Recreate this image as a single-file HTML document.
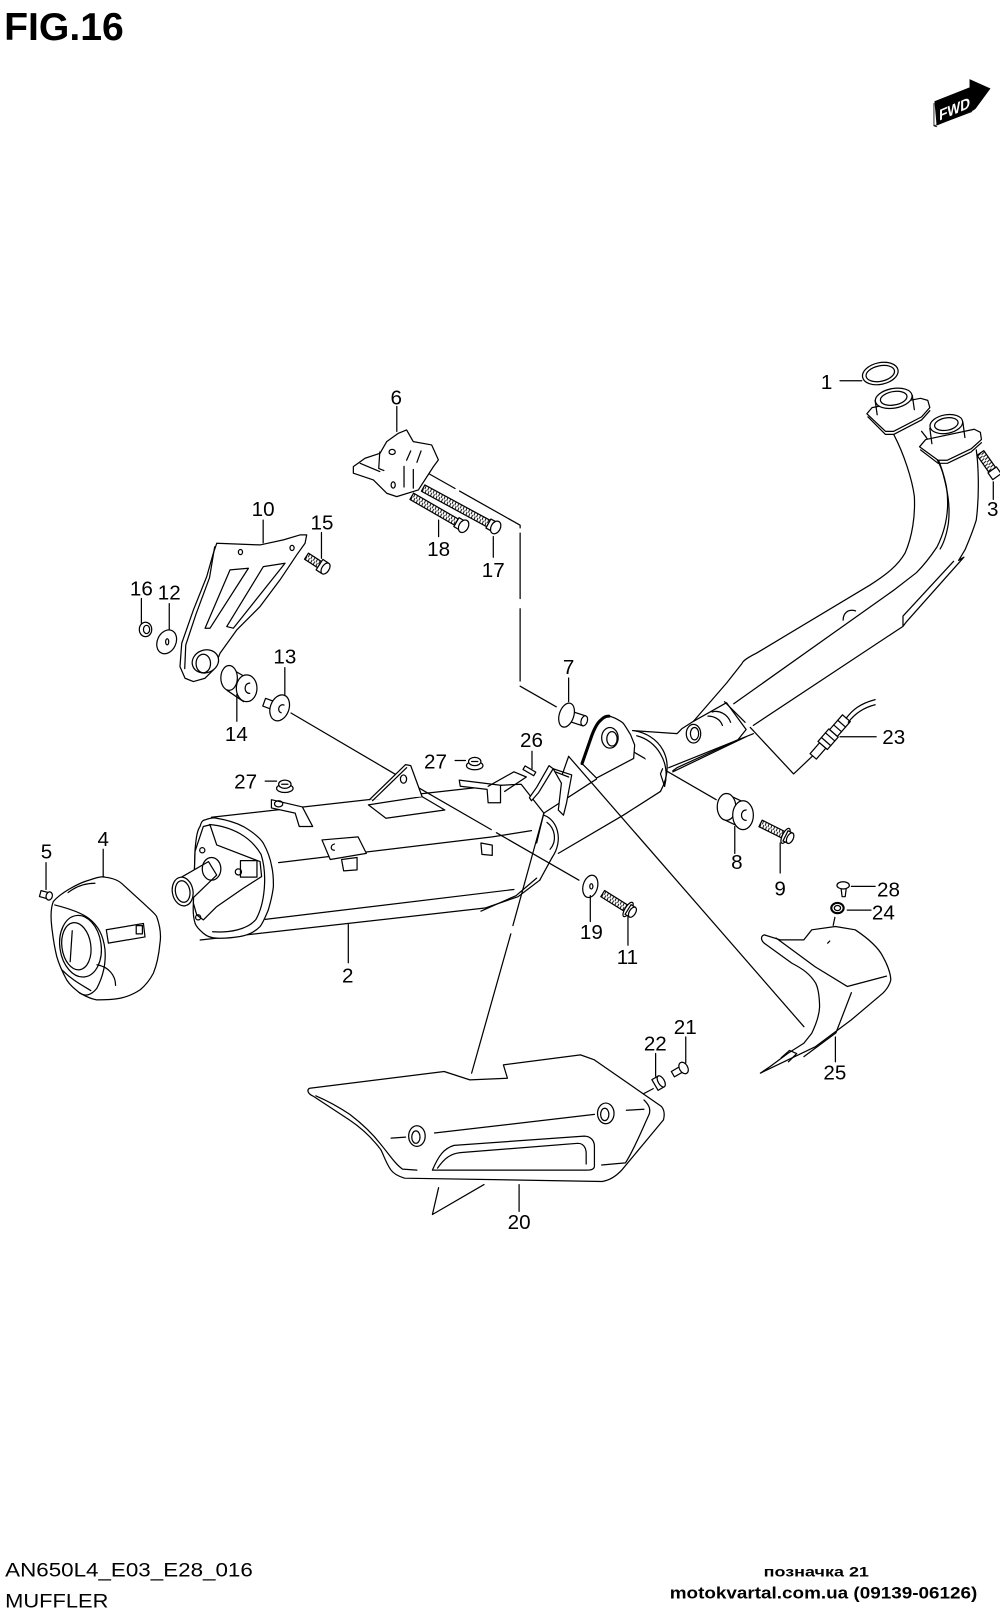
<!DOCTYPE html>
<html><head><meta charset="utf-8"><style>
html,body{margin:0;padding:0;background:#fff;}
svg{display:block;}
text{font-family:"Liberation Sans",Arial,sans-serif;fill:#000;}
.l{font-size:20px;text-anchor:middle;}
</style></head><body>
<svg width="1000" height="1619" viewBox="0 0 969 1569" preserveAspectRatio="none" xmlns="http://www.w3.org/2000/svg">
<defs>
<pattern id="thr" width="3" height="10" patternUnits="userSpaceOnUse"><rect width="3" height="10" fill="#fff"/><path d="M0.5,0 L2,10" stroke="#000" stroke-width="0.9"/></pattern>
</defs>
<rect width="969" height="1569" fill="#fff"/>
<text x="4" y="39" font-size="38" font-weight="bold" textLength="116" lengthAdjust="spacingAndGlyphs">FIG.16</text>
<!-- FWD -->
<polygon points="906,98.5 940,85 940,77.5 959,86 945,105 943,106.5 908,121" fill="#000" stroke="#000" stroke-width="1"/>
<path d="M905,100 L905,122 L908,123 M905,122 L942,108" fill="none" stroke="#000" stroke-width="0.8"/>
<text x="0" y="0" font-size="15" font-weight="bold" style="fill:#fff" textLength="30" lengthAdjust="spacingAndGlyphs" transform="translate(910,117) skewY(-23)">FWD</text>

<g fill="none" stroke="#000" stroke-width="1.2" stroke-linejoin="round" stroke-linecap="round">
<!-- ===== leader/dashed lines ===== -->
<path d="M380,439 L504,509 L504,580 M504,590 L504,665 L539,685" stroke-dasharray="70 5"/>
<path d="M282,691 L391,755 M391,755 L476,804 M481,807 L561,853" />
<path d="M592,716 L694,775"/>
<path d="M702,680 L722,700 M727,705 L769,750 L787,733"/>
<path d="M551,733 L779,995"/>
<path d="M527,788 L497,897 M495,905 L457,1040"/>
<path d="M809,889 L804,913" stroke-dasharray="8 4"/>
<path d="M587,1079 L633,1055"/>

<!-- ===== exhaust pipes ===== -->
<path d="M866,421 C876,440 884,465 886,481 C887,500 884,520 877,536 C870,548 860,556 843,567 L733,633 C725,637 720,640 719,643 L704,662 L672,699"/>
<path d="M893,418 C905,432 913,452 917,471 C920,490 918,510 908,530 C900,542 895,548 888,555 L866,572 L711,682"/>
<path d="M898,430 C906,440 912,452 914,460 C918,475 921,490 919,507 C917,520 914,527 911,532"/>
<path d="M946,436 C948,450 948,462 948,471 C948,488 947,496 946,504 C942,517 938,526 935,533 L929,543"/>
<path d="M929,543 L934,540 L878,603 L875,607 L875,597 L924,544 M875,607 L730,703"/>
<path d="M817,601 C817,594 822,590 829,592"/>
<!-- left flange -->
<path d="M840,401 L845,395 L892,386 L899,388 L901,395 L893,404 L866,418 L858,418 Z" fill="#fff"/>
<path d="M841,404 L858,421 L866,421 L893,407 L901,398"/>
<path d="M848,388 L850,402 M884,383 L886,397" />
<ellipse cx="866" cy="386" rx="18" ry="9.5" transform="rotate(-10 866 386)" fill="#fff"/>
<ellipse cx="866" cy="386" rx="13" ry="6.5" transform="rotate(-10 866 386)"/>
<!-- right flange -->
<path d="M891,433 L897,426 L944,416 L950,419 L951,426 L941,435 L918,446 L909,446 Z" fill="#fff"/>
<path d="M892,436 L909,449 L918,449 L941,438 L951,429"/>
<path d="M901,415 L903,430 M933,409 L935,424"/>
<ellipse cx="917" cy="411" rx="16" ry="9" transform="rotate(-10 917 411)" fill="#fff"/>
<ellipse cx="917" cy="411" rx="11.5" ry="6" transform="rotate(-10 917 411)"/>
<!-- ring 1 -->
<ellipse cx="853" cy="362" rx="17.5" ry="10.5" transform="rotate(-12 853 362)" fill="#fff"/>
<ellipse cx="853" cy="362" rx="14" ry="7.5" transform="rotate(-12 853 362)"/>
<!-- bolt 3 -->
<g transform="translate(950,439) rotate(55)"><rect x="0" y="-4" width="20" height="8" fill="url(#thr)"/><rect x="20" y="-5" width="8" height="10" fill="#fff"/></g>
<!-- sensor 23 -->
<g transform="translate(788,733) rotate(-49)"><rect x="0" y="-4" width="14" height="8" fill="#fff"/><rect x="14" y="-6" width="16" height="12" fill="#fff"/><path d="M19,-6 L19,6 M25,-6 L25,6"/><rect x="30" y="-5" width="19" height="10" fill="#fff"/><path d="M36,-5 L36,5 M42,-5 L42,5"/></g>
<path d="M820,696 C826,688 833,682 848,678 M822,700 C828,692 836,686 848,683"/>

<!-- ===== junction / catalyzer ===== -->
<path d="M613,708 L656,711 L661,706 L672,699 L704,681 L723,707 L715,717 L656,744 L652,747"/>
<path d="M648,744 L730,711 M652,748 L723,714"/>
<path d="M613,708 C638,711 657,735 640,767" fill="#fff"/>
<path d="M617,713 C636,718 650,738 644,762"/>
<path d="M640,767 L604,790 L541,827"/>
<ellipse cx="672" cy="711" rx="7" ry="9"/>
<ellipse cx="673" cy="711" rx="4" ry="6"/>
<path d="M690,690 C697,688 705,692 708,700 M686,694 C692,694 698,697 700,703"/>
<path d="M644,762 L640,750 L642,745"/>
<!-- hanger plate -->
<path d="M564,740 L572,717 C575,708 578,702 581,699 C584,696 586,694 588,694 C592,694 594,695 596,696 C600,698 602,699 604,701 C607,705 609,709 611,712 L615,722 L614,735 L578,754 Z" fill="#fff"/>
<path d="M564,740 L572,717 C575,708 578,702 581,699 C584,696 586,694 590,694" stroke-width="3"/>
<ellipse cx="591" cy="715" rx="8" ry="10" fill="#fff"/>
<ellipse cx="593" cy="716" rx="5" ry="7"/>
<path d="M527,788 L578,755"/>
<!-- ===== muffler 2 ===== -->
<path d="M205,792 L455,764 L486,761"/>
<path d="M270,836 L477,811 L515,805"/>
<path d="M257,891 L498,862"/>
<path d="M194,911 L470,880 L502,869 L523,853"/>
<path d="M466,883 L500,868 L520,851"/>
<path d="M486,761 L505,760 L527,788"/>
<path d="M527,790 C541,795 546,815 535,831" fill="#fff"/>
<path d="M530,797 C538,803 540,815 533,823"/>
<path d="M523,853 L535,831"/>
<!-- side bracket -->
<path d="M312,814 L347,811 L355,827 L320,833 Z" fill="#fff"/>
<path d="M331,833 L346,831 L346,843 L333,844 Z" fill="#fff"/>
<path d="M324,818 C320,819 320,824 324,824"/>
<path d="M466,817 L477,819 L477,829 L467,828 Z" fill="#fff"/>
<!-- top triangle bracket -->
<path d="M357,780 L374,793 L431,785 L409,772 Z" fill="#fff"/>
<path d="M358,775 L393,741 L398,742 L409,772" fill="#fff"/>
<path d="M361,776 L394,744" />
<ellipse cx="391" cy="755" rx="3" ry="4"/>
<!-- left clip + 27 -->
<path d="M263,775 L293,782 L303,801 L290,801 L286,788 L263,783 Z" fill="#fff"/>
<ellipse cx="270" cy="779" rx="4" ry="3"/>
<g transform="translate(276,761)"><ellipse cx="0" cy="3" rx="8" ry="4" fill="#fff"/><ellipse cx="0" cy="-1" rx="6" ry="4" fill="#fff"/><path d="M-3,-1 L3,-1"/></g>
<!-- upper clip + 27 -->
<path d="M445,756 L485,761 L485,778 L473,778 L472,765 L446,762 Z" fill="#fff"/>
<path d="M473,762 L498,748 L510,753 L489,767"/>
<g transform="translate(460,739)"><ellipse cx="0" cy="3" rx="8" ry="4" fill="#fff"/><ellipse cx="0" cy="-1" rx="6" ry="4" fill="#fff"/><path d="M-3,-1 L3,-1"/></g>
<!-- bracket near 26 -->
<path d="M536,745 L554,751 L549,778 L546,790 L541,785 L544,759 Z" fill="#fff"/>
<path d="M538,748 L551,753"/>
<path d="M515,776 L522,768 L536,745 L532,742 L520,763 L513,773 Z" fill="#fff"/>
<path d="M545,750 L551,733"/>
<path d="M520,817 L527,788"/>
<g transform="translate(513,747) rotate(30)"><rect x="-6" y="-2" width="12" height="4" fill="#fff"/></g>
<!-- muffler end cap -->
<path d="M198.6,794.6 C203,793 207,792 210,793 C222,795 230,798 235.8,801 C246,807 252,812 255.2,817.2 C260,826 262,832 263.3,839.8 C265,847 265,853 264.9,859.2 C264,868 262,875 260,881.8 C257,889 255,894 252,897.9 C246,904 240,906 232.6,907.6 C224,909 216,909.5 210,909.2 C204,909 200,907 197,904.4 C193,901 190,898 189,894.7 C187,888 187,881 187.4,875.3 L189,823.6 C190,812 191,805 193.8,801 C195,797 196,795 198.6,794.6 Z" fill="#fff"/>
<path d="M203,799 C225,801 243,811 253,828 C259,847 257,875 248,891 C240,901 222,904 206,903"/>
<path d="M197,801 L203.5,799.4 L210,818.8 L252,835 L253.5,849.5 L235.8,860.8 L210,878.6 L197,891.5 L190.6,886.6 L187.4,875.3 L189,825 Z" fill="#fff"/>
<rect x="233" y="834" width="16" height="16" fill="#fff"/>
<circle cx="196" cy="824" r="2.5"/><circle cx="231" cy="845" r="3"/><circle cx="192" cy="889" r="2.5"/>
<path d="M176,850 L202,835 L210,848 L179,878" fill="#fff"/>
<ellipse cx="205" cy="842" rx="9" ry="11"/>
<ellipse cx="177" cy="864" rx="10" ry="14" transform="rotate(-10 177 864)" fill="#fff"/>
<ellipse cx="177" cy="864" rx="7" ry="10.5" transform="rotate(-10 177 864)"/>
<!-- cap 4 -->
<path d="M51.7,873.7 C58,866 75,856 87.2,852.7 C95,850 100,849 101.7,850.1 C110,851 116,854 119.5,857.6 L138.9,875.3 C146,882 151,886 151.8,888.3 C156,900 156,908 155,914.1 C154,925 152,935 148.6,943.2 C145,950 141,955 135.7,959.3 C130,963 124,966 116.3,967.4 C108,969 100,969 93.7,969 C87,968 82,965 77.5,962.5 C72,958 68,955 64.6,949.6 C60,941 57,934 55,927 C52,915 51,905 50.1,898 C49,888 49,880 51.7,873.7 Z" fill="#fff"/>
<path d="M53,877 C65,880 78,884 86,890 C95,897 100,906 101.7,920 C103,935 99,948 93.7,958 C88,965 82,966 77,962"/>
<ellipse cx="78" cy="917" rx="20" ry="30" transform="rotate(-8 78 917)"/>
<ellipse cx="74" cy="917" rx="14" ry="23" transform="rotate(-8 74 917)"/>
<path d="M70,902 L68,932"/>
<path d="M103,901 L139,895 L140.5,908 L105,914 Z" fill="#fff"/>
<rect x="132" y="897" width="6" height="8"/>
<path d="M66,865 C75,858 85,856 92,856"/>
<path d="M94,935 C105,937 112,945 112,955"/>
<path d="M60,940 C70,950 80,955 88,960"/>
<!-- screw 5 -->
<g transform="translate(39,866) rotate(15)"><rect x="0" y="-3" width="8" height="6" fill="#fff"/><ellipse cx="9" cy="0" rx="3" ry="4" fill="#fff"/></g>

<!-- ===== bracket 6 ===== -->
<path d="M342.4,452.2 L353.7,444.1 L368.2,439.3 L374.7,428 L386,419.9 L394,416.7 L400.5,428 L418.3,431.2 L424.8,445.7 L420,452.2 L405.4,474.8 L384.4,481.3 L374.7,478 L361.8,465.1 L342.4,458.6 Z" fill="#fff"/>
<path d="M368,438 L367,454 L372,456 M349,449 L368,457 M391.5,452 L391.5,472 M400.5,455 L400.5,473 M398,437 L394,446 M408,437 L404,448"/>
<ellipse cx="380" cy="438" rx="3" ry="2.5"/>
<ellipse cx="381" cy="470" rx="2" ry="3"/>
<!-- bolts 17/18 -->
<g transform="translate(410,473) rotate(28.5)"><rect x="0" y="-3.5" width="72" height="7" fill="url(#thr)"/><rect x="72" y="-5" width="5" height="10" fill="#fff"/><ellipse cx="80" cy="0" rx="4.5" ry="6.5" fill="#fff"/></g>
<g transform="translate(399,481) rotate(30)"><rect x="0" y="-3.5" width="50" height="7" fill="url(#thr)"/><rect x="50" y="-5" width="5" height="10" fill="#fff"/><ellipse cx="58" cy="0" rx="4.5" ry="6.5" fill="#fff"/></g>
<!-- bracket 10 -->
<path d="M210,526.5 L252,528.1 L274.6,523.2 L290.7,518.4 L297.2,518.4 L295.6,526.5 L287.5,537.8 L271.3,562 L252,587.8 L229.4,610.5 L213.2,633.1 L206.7,649.2 L198.7,657.3 L187.4,660.5 L179.3,657.3 L174.4,646 L176.1,623.4 L187.4,591.1 L200.3,558.8 L206.7,536.2 Z" fill="#fff"/>
<path d="M208,530 L203,560 L190,595 L180,625 L179,648"/>
<path d="M222.9,552.3 L240.7,550.7 L203.5,608.8 L198.7,608.8 Z"/>
<path d="M255.2,549.1 L276.2,545.9 L226.1,608.8 L219.7,607.2 Z"/>
<ellipse cx="233" cy="535" rx="2" ry="2.5"/>
<ellipse cx="283" cy="531" rx="2" ry="2.5"/>
<ellipse cx="199" cy="641" rx="13" ry="11" transform="rotate(-20 199 641)" fill="#fff"/>
<ellipse cx="197" cy="643" rx="7" ry="9"/>
<!-- bolt 15 -->
<g transform="translate(297,539) rotate(33)"><rect x="0" y="-3.5" width="15" height="7" fill="url(#thr)"/><rect x="15" y="-6" width="6" height="12" fill="#fff"/><ellipse cx="22" cy="0" rx="3.5" ry="6" fill="#fff"/></g>
<!-- nut 16, washer 12 -->
<ellipse cx="141" cy="610" rx="6" ry="7" fill="#fff"/><ellipse cx="142" cy="610" rx="3" ry="4"/>
<ellipse cx="161.5" cy="622" rx="9" ry="12" transform="rotate(25 161.5 622)" fill="#fff"/><ellipse cx="162" cy="622" rx="1.5" ry="3"/>
<!-- spacer 14 -->
<path d="M220,646 L236,655 M220,669 L236,680"/>
<ellipse cx="222" cy="657" rx="8" ry="12" fill="#fff"/>
<ellipse cx="239" cy="667" rx="10" ry="13" fill="#fff"/>
<path d="M242,662 C236,662 236,672 242,672"/>
<!-- collar 13 -->
<g transform="translate(271,686) rotate(20)"><rect x="-16" y="-4" width="16" height="8" fill="#fff"/><ellipse cx="0" cy="0" rx="9" ry="13" fill="#fff"/><path d="M3,-4 C-2,-4 -2,4 3,4"/></g>
<!-- collar 7 -->
<g transform="translate(549,693) rotate(18)"><rect x="0" y="-5" width="18" height="10" fill="#fff"/><ellipse cx="18" cy="0" rx="3" ry="5" fill="#fff"/><ellipse cx="0" cy="0" rx="7" ry="12" fill="#fff"/></g>
<!-- spacer 8 -->
<path d="M703,769 L720,777 M703,795 L720,803"/>
<ellipse cx="704" cy="782" rx="9" ry="13" fill="#fff"/>
<ellipse cx="720" cy="790" rx="10" ry="14" fill="#fff"/>
<path d="M723,785 C717,785 717,795 723,795"/>
<!-- bolt 9 -->
<g transform="translate(737,798) rotate(26.5)"><rect x="0" y="-3.5" width="24" height="7" fill="url(#thr)"/><ellipse cx="27" cy="0" rx="3" ry="8" fill="#fff"/><rect x="27" y="-5.5" width="5" height="11" fill="#fff"/><ellipse cx="32" cy="0" rx="3" ry="5.5" fill="#fff"/></g>
<!-- washer 19, bolt 11 -->
<ellipse cx="572" cy="859" rx="7" ry="11" transform="rotate(15 572 859)" fill="#fff"/><ellipse cx="573" cy="859" rx="1.5" ry="2.5"/>
<g transform="translate(584,866) rotate(32)"><rect x="0" y="-3.5" width="26" height="7" fill="url(#thr)"/><ellipse cx="29" cy="0" rx="3" ry="8" fill="#fff"/><rect x="29" y="-5.5" width="5" height="11" fill="#fff"/><ellipse cx="34" cy="0" rx="3" ry="5.5" fill="#fff"/></g>
<!-- screw 28, nut 24 -->
<path d="M815,861 L816,869 L819,869 L820,861"/>
<ellipse cx="817" cy="858" rx="6" ry="3.5" fill="#fff"/>
<ellipse cx="811.5" cy="880" rx="6" ry="5" fill="#fff" stroke-width="2"/><ellipse cx="811.5" cy="880" rx="3" ry="2.5"/>
<!-- 21, 22 -->
<g transform="translate(652,1041) rotate(-30)"><rect x="0" y="-3" width="10" height="6" fill="#fff"/><ellipse cx="12" cy="0" rx="4" ry="6" fill="#fff"/></g>
<g transform="translate(639,1049) rotate(-30)"><rect x="-5" y="-6" width="7" height="12" fill="#fff"/><ellipse cx="2" cy="0" rx="3" ry="6" fill="#fff"/></g>

<!-- ===== heat shield 25 ===== -->
<path d="M740.6,906 L755.9,910.8 L778.9,910.8 L786.6,901.1 L809.5,897.9 L828.7,901.1 C845,912 852,920 855.5,927 C861,937 863,944 863.2,949.6 C862,955 859,959 855.5,962.5 L824.9,988.4 L790.4,1014.2 L763.6,1027.1 L736.8,1040 L746.3,1033.6 L763.6,1020.7 L778.9,1011 L786.6,1001.3 C792,990 794,982 794.2,975.5 C794,965 793,958 790.4,952.8 C785,944 778,939 767.4,933.5 L740.6,914.1 C737,911 737,907 740.6,906 Z" fill="#fff"/>
<path d="M752,909 L790,937 L821,956 L859,946"/>
<path d="M825,962 L810,1001 L779,1024"/>
<path d="M757,1025 L765,1018 L772,1021 L764,1029"/>
<path d="M804,912 L802,914"/>

<!-- ===== heat shield 20 ===== -->
<path d="M300.2,1054.6 L430.4,1038.4 L455.3,1046.5 L491.7,1044.9 L487.8,1032 L562.5,1022.3 L575.9,1027.1 L641,1072.3 C644,1076 644,1081 642.9,1085.3 L602.7,1133.7 C596,1141 590,1144 583.6,1145 L392.1,1141.8 C386,1140 381,1137 378.7,1133.7 C374,1127 372,1120 369.1,1114.3 C360,1102 350,1093 338.5,1085.3 L304,1062.6 C298,1060 297,1056 300.2,1054.6 Z" fill="#fff"/>
<path d="M306,1062 C320,1068 330,1074 339,1080 C352,1090 362,1100 369,1109 C378,1120 383,1128 390,1133 L404,1134"/>
<path d="M583,1129 L606,1127 C614,1115 622,1095 629,1080 C631,1074 628,1070 624,1066"/>
<path d="M419,1134 C425,1120 430,1113 440,1110 L566,1101 C572,1101 576,1105 576,1111 L576,1130 C576,1133 573,1134 569,1134 Z"/>
<path d="M424,1132 C431,1122 437,1118 446,1117 L560,1108 C565,1108 568,1112 568,1118 L568,1128"/>
<path d="M421,1098 L576,1080 M607,1076 L624,1075 M379,1103 L393,1102"/>
<ellipse cx="404" cy="1101" rx="8" ry="10" fill="#fff"/><ellipse cx="403" cy="1102" rx="4" ry="6"/>
<ellipse cx="587" cy="1079" rx="8" ry="10" fill="#fff"/><ellipse cx="586" cy="1080" rx="4" ry="6"/>
<path d="M425,1151 L419,1177 L469,1148"/>

<!-- ===== label leaders ===== -->
<path d="M814,369 L835,369 M962.5,467 L962.5,484 M384.5,394 L384.5,418 M255,504 L255,526 M311.5,516 L311.5,541 M137,580 L137,604 M164,585 L164,610 M425,504 L425,520 M478,520 L478,540 M276,647 L276,673 M229.5,673 L229.5,699 M551,657 L551,680 M515.5,728 L515.5,745 M441,737 L451,737 M257,757 L268,757 M814,714 L849,714 M712,801 L712,827 M756,817 L756,846 M44.6,836 L44.6,862 M100,823 L100,850 M337.5,896 L337.5,933 M572,868 L572,893 M608.5,888 L608.5,916 M825,859 L848,859 M821,882 L844,882 M635.3,1021 L635.3,1043 M664.5,1005 L664.5,1030 M809.5,1005 L809.5,1029 M503,1148 L503,1174"/>
</g>

<!-- labels -->
<text class="l" x="801" y="377">1</text>
<text class="l" x="962" y="500">3</text>
<text class="l" x="384" y="392">6</text>
<text class="l" x="255" y="500">10</text>
<text class="l" x="312" y="513">15</text>
<text class="l" x="137" y="577">16</text>
<text class="l" x="164" y="581">12</text>
<text class="l" x="425" y="539">18</text>
<text class="l" x="478" y="559">17</text>
<text class="l" x="276" y="643">13</text>
<text class="l" x="229" y="718">14</text>
<text class="l" x="551" y="653">7</text>
<text class="l" x="515" y="724">26</text>
<text class="l" x="422" y="745">27</text>
<text class="l" x="238" y="764">27</text>
<text class="l" x="866" y="721">23</text>
<text class="l" x="714" y="842">8</text>
<text class="l" x="756" y="868">9</text>
<text class="l" x="45" y="832">5</text>
<text class="l" x="100" y="820">4</text>
<text class="l" x="337" y="952">2</text>
<text class="l" x="573" y="910">19</text>
<text class="l" x="608" y="934">11</text>
<text class="l" x="861" y="869">28</text>
<text class="l" x="856" y="891">24</text>
<text class="l" x="635" y="1018">22</text>
<text class="l" x="664" y="1002">21</text>
<text class="l" x="809" y="1046">25</text>
<text class="l" x="503" y="1191">20</text>

<text x="5" y="1528" font-size="19" textLength="240" lengthAdjust="spacingAndGlyphs">AN650L4_E03_E28_016</text>
<text x="5" y="1558" font-size="19" textLength="100" lengthAdjust="spacingAndGlyphs">MUFFLER</text>
<text x="740" y="1528" font-size="13" font-weight="bold" textLength="102" lengthAdjust="spacingAndGlyphs">позначка 21</text>
<text x="649" y="1549" font-size="16" font-weight="bold" textLength="298" lengthAdjust="spacingAndGlyphs">motokvartal.com.ua (09139-06126)</text>
</svg>
</body></html>
